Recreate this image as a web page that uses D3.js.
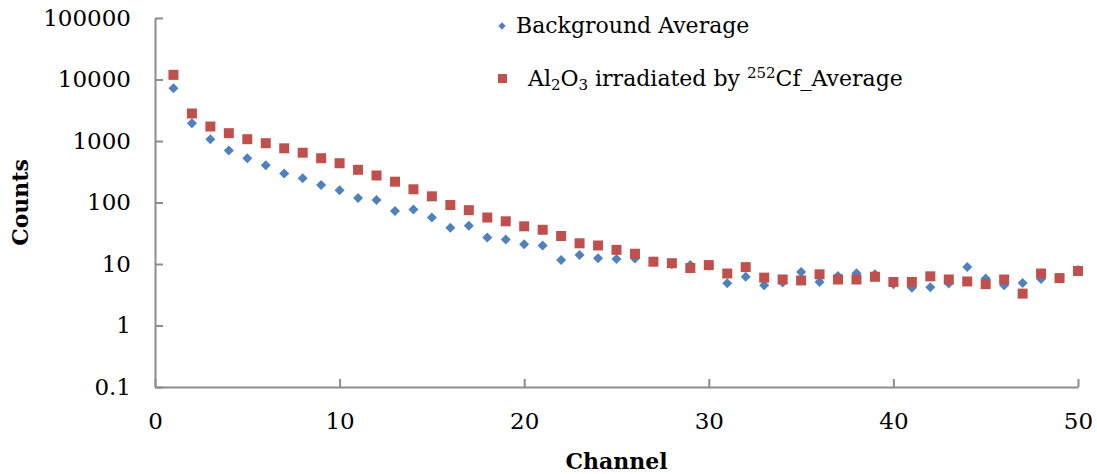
<!DOCTYPE html>
<html>
<head>
<meta charset="utf-8">
<script src="https://cdn.jsdelivr.net/npm/d3@7"></script>
<style>
  body { margin: 0; background: #fff; }
  text { font-family: "DejaVu Serif", serif; }
</style>
</head>
<body>
<svg width="1097" height="474"></svg>
<script>
const channels = d3.range(1, 51);
const background = [7200, 1950, 1070, 700, 525, 405, 295, 248, 193, 158,
  118, 110, 73, 77, 57, 39, 42, 27, 25, 21,
  20, 11.6, 14, 12.4, 12.1, 12.3, 11, 9.9, 9.6, 9.4,
  4.85, 6.2, 4.5, 5, 7.4, 5.1, 6.4, 7.1, 6.8, 4.7,
  4.1, 4.2, 4.8, 8.9, 5.8, 4.5, 4.9, 5.7, 6, 8];
const cfAverage = [11900, 2800, 1720, 1340, 1070, 920, 760, 645, 525, 435,
  340, 275, 218, 164, 126, 91, 75, 57, 49.5, 41,
  36, 28.5, 21.7, 20, 17, 14.7, 10.9, 10.3, 8.6, 9.6,
  7, 8.9, 6, 5.6, 5.4, 6.8, 5.6, 5.6, 6.2, 5.1,
  5.1, 6.3, 5.6, 5.2, 4.7, 5.6, 3.3, 7, 5.9, 7.7];
const xTicks = [0, 10, 20, 30, 40, 50];
const yTicks = [0.1, 1, 10, 100, 1000, 10000, 100000];

const svg = d3.select("svg");
const margin = { top: 18, right: 19, bottom: 87, left: 155 };
const width = +svg.attr("width") - margin.left - margin.right;
const height = +svg.attr("height") - margin.top - margin.bottom;

const xScale = d3.scaleLinear().domain([0, 50]).range([0, width]);
const yScale = d3.scaleLog().domain([0.1, 100000]).range([height, 0]);

const graph = svg.append("g")
  .attr("transform", `translate(${margin.left}, ${margin.top})`);

const axisColor = "#8c8c8c";

// y axis, ticks pointing into the plot
const yAxisG = graph.append("g")
  .call(d3.axisLeft(yScale).tickValues(yTicks).tickFormat(d3.format("")).tickSizeInner(-8).tickSizeOuter(0).tickPadding(24));
yAxisG.select(".domain").attr("stroke", axisColor).attr("stroke-width", 2);
yAxisG.selectAll(".tick line").attr("stroke", axisColor).attr("stroke-width", 2);
yAxisG.selectAll(".tick text").attr("font-size", 23).attr("fill", "#000");

// x axis
const xAxisG = graph.append("g")
  .attr("transform", `translate(0, ${height})`)
  .call(d3.axisBottom(xScale).tickValues(xTicks).tickSizeInner(-8).tickSizeOuter(0).tickPadding(26));
xAxisG.select(".domain").attr("stroke", axisColor).attr("stroke-width", 2);
xAxisG.selectAll(".tick line").attr("stroke", axisColor).attr("stroke-width", 2);
xAxisG.selectAll(".tick text").attr("font-size", 23).attr("fill", "#000");

// series
const diamond = d3.symbol().type(d3.symbolDiamond2).size(64);

graph.append("g").selectAll("path")
  .data(channels)
  .enter()
  .append("path")
  .attr("d", diamond)
  .attr("transform", (d, i) => `translate(${xScale(d)}, ${yScale(background[i])})`)
  .attr("fill", "#4f81bd");

graph.append("g").selectAll("rect")
  .data(channels)
  .enter()
  .append("rect")
  .attr("x", d => xScale(d) - 5)
  .attr("y", (d, i) => yScale(cfAverage[i]) - 5)
  .attr("width", 10)
  .attr("height", 10)
  .attr("fill", "#c0504d");

// axis titles
svg.append("text")
  .text("Channel")
  .attr("x", margin.left + width / 2)
  .attr("y", 469)
  .attr("text-anchor", "middle")
  .attr("font-size", 22)
  .attr("font-weight", "bold");

svg.append("text")
  .text("Counts")
  .attr("transform", `translate(28, ${margin.top + height / 2}) rotate(-90)`)
  .attr("text-anchor", "middle")
  .attr("font-size", 22)
  .attr("font-weight", "bold");

// legend
const legend = svg.append("g");
legend.append("path")
  .attr("d", d3.symbol().type(d3.symbolDiamond2).size(34))
  .attr("transform", "translate(502, 26)")
  .attr("fill", "#4f81bd");
legend.append("text")
  .text("Background Average")
  .attr("x", 516)
  .attr("y", 33)
  .attr("font-size", 22);

legend.append("rect")
  .attr("x", 498).attr("y", 74).attr("width", 9).attr("height", 9)
  .attr("fill", "#c0504d");
const t2 = legend.append("text")
  .attr("x", 528)
  .attr("y", 86)
  .attr("font-size", 22);
t2.append("tspan").text("Al");
t2.append("tspan").text("2").attr("font-size", 15).attr("dy", 4);
t2.append("tspan").text("O").attr("dy", -4);
t2.append("tspan").text("3").attr("font-size", 15).attr("dy", 4);
t2.append("tspan").text(" irradiated by ").attr("dy", -4);
t2.append("tspan").text("252").attr("font-size", 15).attr("dy", -8);
t2.append("tspan").text("Cf_Average").attr("dy", 8);
</script>
</body>
</html>
